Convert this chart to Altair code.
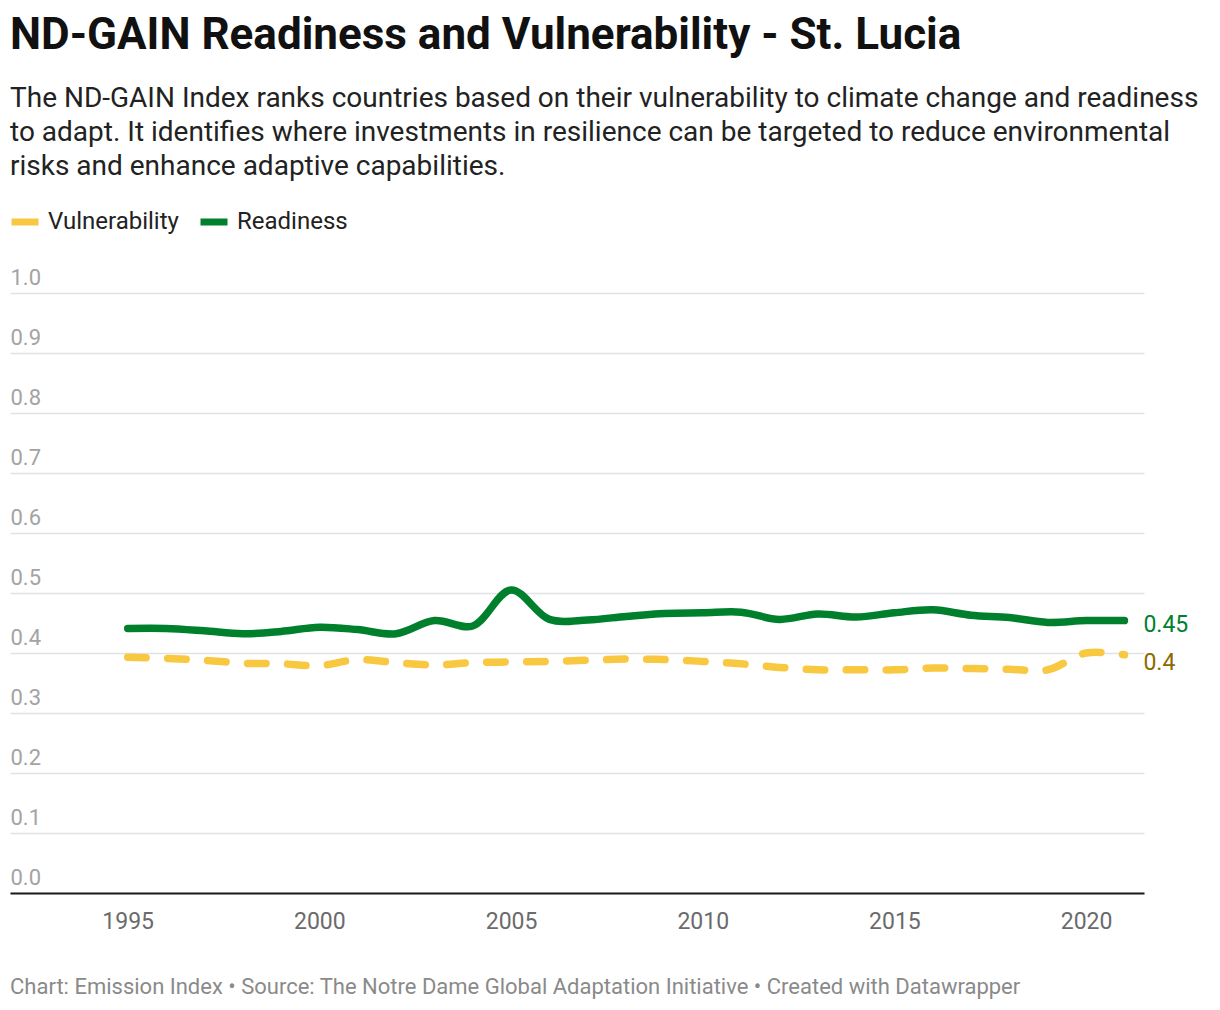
import altair as alt
import pandas as pd

years = list(range(1995, 2022))
readiness = [0.441, 0.441, 0.437, 0.432, 0.436, 0.443, 0.439, 0.432, 0.454, 0.445,
             0.505, 0.456, 0.455, 0.461, 0.466, 0.467, 0.468, 0.456, 0.465, 0.460,
             0.467, 0.472, 0.463, 0.459, 0.451, 0.454, 0.454]
vulnerability = [0.393, 0.391, 0.388, 0.383, 0.382, 0.379, 0.389, 0.384, 0.380, 0.384,
                 0.385, 0.386, 0.388, 0.390, 0.389, 0.386, 0.382, 0.376, 0.372, 0.372,
                 0.372, 0.375, 0.374, 0.373, 0.372, 0.400, 0.397]
series_names = ["Vulnerability", "Readiness"]
series_colors = ["#f8c840", "#007f2d"]
label_colors = ["#8c6a00", "#007f2d"]
y_ticks = [round(i / 10, 1) for i in range(11)]
x_ticks = [1995, 2000, 2005, 2010, 2015, 2020]

title = "ND-GAIN Readiness and Vulnerability - St. Lucia"
subtitle = [
    "The ND-GAIN Index ranks countries based on their vulnerability to climate change and readiness",
    "to adapt. It identifies where investments in resilience can be targeted to reduce environmental",
    "risks and enhance adaptive capabilities.",
]
footer = "Chart: Emission Index \u2022 Source: The Notre Dame Global Adaptation Initiative \u2022 Created with Datawrapper"

rows = []
for y, r, v in zip(years, readiness, vulnerability):
    rows.append({"year": y, "series": "Readiness", "value": r})
    rows.append({"year": y, "series": "Vulnerability", "value": v})
df = pd.DataFrame(rows)

x_enc = alt.X(
    "year:Q",
    scale=alt.Scale(domain=[1991.93, 2021.51], nice=False, zero=False),
    axis=alt.Axis(
        values=x_ticks, format="d", title=None, grid=False, ticks=False, tickSize=0,
        labelFontSize=23, labelColor="#6b6b6b", labelBaseline="alphabetic",
        labelPadding=35, domainColor="#1a1a1a", domainWidth=2,
    ),
)
y_enc = alt.Y(
    "value:Q",
    scale=alt.Scale(domain=[0, 1], nice=False),
    axis=alt.Axis(
        values=y_ticks, format=".1f", title=None, ticks=False, tickSize=0, domain=False,
        labelAlign="left", labelBaseline="alphabetic", labelPadding=0, labelOffset=-9,
        labelFontSize=22, labelColor="#a3a3a3", gridColor="#e2e2e2", gridWidth=1.5,
        labelOverlap=False,
    ),
)
color_enc = alt.Color(
    "series:N",
    scale=alt.Scale(domain=series_names, range=series_colors),
    legend=alt.Legend(
        title=None, orient="none", legendX=-2, legendY=-88, direction="horizontal",
        symbolType="stroke", symbolSize=729, symbolStrokeWidth=7,
        labelFontSize=24, labelColor="#222222", labelOffset=6, columnPadding=7,
        labelLimit=400, padding=0,
    ),
)

base = alt.Chart(df)

vul_line = base.transform_filter(alt.datum.series == "Vulnerability").mark_line(
    interpolate="catmull-rom", strokeWidth=7.5, strokeCap="round", strokeJoin="round",
    strokeDash=[18.5, 21.5],
).encode(x=x_enc, y=y_enc, color=color_enc)

rea_line = base.transform_filter(alt.datum.series == "Readiness").mark_line(
    interpolate="catmull-rom", strokeWidth=7.5, strokeCap="round", strokeJoin="round",
).encode(x=x_enc, y=y_enc, color=color_enc)

last = years[-1]
rea_label = base.transform_filter(
    (alt.datum.series == "Readiness") & (alt.datum.year == last)
).mark_text(align="left", baseline="alphabetic", dx=19, dy=11, fontSize=23, color=label_colors[1]).encode(
    x="year:Q", y="value:Q", text=alt.Text("value:Q", format=".2~f")
)
vul_label = base.transform_filter(
    (alt.datum.series == "Vulnerability") & (alt.datum.year == last)
).mark_text(align="left", baseline="alphabetic", dx=19, dy=15, fontSize=23, color=label_colors[0]).encode(
    x="year:Q", y="value:Q", text=alt.Text("value:Q", format=".2~f")
)

foot = alt.Chart(pd.DataFrame({"t": [footer]})).mark_text(
    align="left", baseline="alphabetic", fontSize=22, color="#8a8a8a"
).encode(x=alt.value(0), y=alt.value(700.7), text="t:N")

chart = alt.layer(vul_line, rea_line, rea_label, vul_label, foot).properties(
    width=1134,
    height=600,
    autosize=alt.AutoSizeParams(type="none"),
    padding={"left": 2, "top": 285, "right": 68, "bottom": 108},
    title=alt.TitleParams(
        text=title, subtitle=subtitle, anchor="start", frame="group",
        fontSize=44, fontWeight="bold", color="#111111", font="Roboto",
        subtitleFontSize=28, subtitleColor="#222222", subtitleFont="Roboto",
        subtitleLineHeight=34, subtitlePadding=27, offset=24,
    ),
).configure(font="Roboto").configure_view(stroke=None)

chart.save("out.html", embed_options={"renderer": "svg", "actions": False})
